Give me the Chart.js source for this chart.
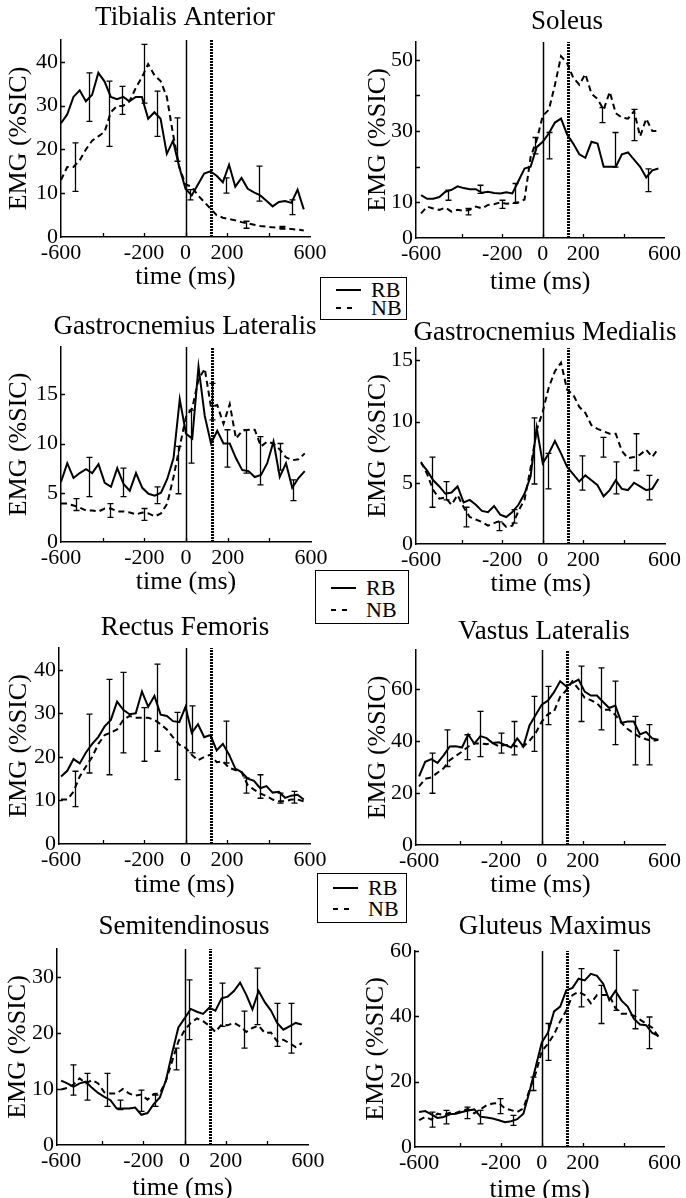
<!DOCTYPE html>
<html>
<head>
<meta charset="utf-8">
<script src="https://cdn.jsdelivr.net/npm/chart.js@4.4.1/dist/chart.umd.min.js"></script>
<style>
  body { margin: 0; background: #fff; width: 686px; height: 1198px; position: relative; overflow: hidden;
         font-family: "Liberation Serif", "Times New Roman", serif; }
  canvas { position: absolute; }
  .lg { position: absolute; box-sizing: border-box; border: 1px solid #000; background: #fff; }
  .lg .row { position: absolute; left: 14px; height: 22px; display: flex; align-items: center; gap: 10px;
             font-size: 22px; line-height: 22px; color: #000; }
</style>
</head>
<body>
<script>
// sample times (ms) shared by every series
const times = [-600,-570,-540,-510,-480,-450,-420,-390,-360,-330,-300,-270,-240,-210,-180,-150,-120,-90,-60,-30,
               0,30,60,90,120,150,180,210,240,270,300,330,360,390,420,450,480,510,540,570];
const xLabels = [-600, -200, 0, 200, 600];
const xMarks = [-400, -200, 0, 200, 400];
const onsetTime = 0;
const secondTime = 125;

// Tibialis Anterior
const taRB = [26,28,32,33.5,31,32.5,37.5,35.5,32,31.5,32,31,32,32,27,28.5,27,19,22,16,11,9.5,12,14.5,15,14,12.5,16.5,11.5,13.5,11,10.2,9.5,8.3,7,8,8.2,7.8,10.8,6.3];
const taNB = [13,16,16,17.5,20,22,23,24,28.5,29.9,30,31,34,36.5,39.5,37,35.6,32,23.5,16,12,11.5,9.5,8,6.5,5,4.4,4.1,3.8,3.4,3.1,2.8,2.5,2.4,2.2,2.1,2,1.8,1.7,1.5];
const taErrT  = [-534,-466,-370,-306,-201,-137,-40,24,193,290,354,466,515];
const taErrLo = [10.4,26.4,20.7,28,30.6,23,17.3,8.5,10,2,8.2,1.8,5.1];
const taErrHi = [21.5,37.5,35.6,34.4,44,33.3,27.2,10.8,13.5,3.6,16.2,2.4,8.5];

// Soleus
const soRB = [12,11,11,11.5,13,13.5,14.5,14,13.7,13.7,12.7,13,12.6,12.5,12.8,12.5,16,19.5,20,25.5,27,29.4,32.4,33.5,29,26.5,23.5,22.5,27,26.5,20,20,20,23.5,24,22,20,17,19,19.5];
const soNB = [6.9,8.8,8.3,7.9,8.5,7.4,7.9,7.6,7.9,8.8,8.3,9.3,9.5,10,9.6,9.8,10,10.8,22.7,27.5,34.3,36,43,51,49,45,43,46,40.5,39,36,41,35,33.8,33.5,35.6,28.5,33.5,30,30];
const soErrT  = [-468,-371,-311,-202,-137,-37,31,294,355,450,519];
const soErrLo = [10.6,6.5,12.5,8.3,9.7,23.6,22.2,32.4,19.9,27.3,13];
const soErrHi = [13.4,8.3,14.8,10.6,15.3,28.2,29.6,36.6,29.6,36.1,19.4];

// Gastrocnemius Lateralis
const glRB = [6.1,8,6.5,7,7.4,7,7.9,6,5.6,7.5,5.9,5.2,7,5.5,4.9,4.7,5,6.4,8.5,14.5,11,10.5,17.8,12.8,10,11.3,10,10,8.5,7.3,7.2,6.6,6.8,8,10.2,6.6,8,5.5,6.5,7.2];
const glNB = [3.9,3.9,3.7,3.5,3.2,3.2,3.1,3.4,3.4,3.1,3.1,3,2.8,3,2.9,2.6,2.9,3.9,6.6,9.7,12.7,13.6,16.5,17.6,13.7,13.9,12,14,10.5,11.3,11.4,11.4,9.7,10.2,10,9.4,8.6,8.3,8.4,9];
const glErrT  = [-528,-464,-365,-304,-202,-138,-37,22,123,195,288,355,451,515];
const glErrLo = [3.2,4.6,2.5,4.6,2.2,3.9,4.9,8,12.4,7.6,7,5.8,7.3,4.2];
const glErrHi = [4.4,8.6,3.9,7.5,3.4,5.6,9.7,13.4,16.1,11.4,11.4,10.7,10,6.3];

// Gastrocnemius Medialis
const gmRB = [6.6,6,5.2,4.7,4.1,4.2,4.7,3.4,3.6,3.2,2.7,2.6,3.1,2.4,2.2,2.6,3.2,4.1,5.5,9.5,6.6,7.4,8.4,7.4,6.3,5.7,5.1,5.6,5.2,4.8,3.9,4.4,5.2,4.5,4.4,5,4.7,4.4,4.5,5.3];
const gmNB = [6.7,5.7,4.4,3.7,3.8,3.2,4,3,2.2,2,1.8,1.5,1.7,1.9,1.4,1.5,2.7,3.6,6.2,9.3,10.8,12.8,14.1,14.8,12.6,12.2,11.2,10.7,9.7,9.4,9.2,9,9,7.6,7,7.1,7.3,7.7,7.1,7.8];
const gmErrT  = [-545,-476,-377,-216,-142,-43,26,193,295,361,460,526];
const gmErrLo = [3,3.6,1.4,1.1,1.7,4.9,4.5,4.4,7.1,4.1,6,3.6];
const gmErrHi = [7.1,5.1,3,1.8,2.8,10.3,7.4,7.2,8.7,6.7,9,5.6];

// Rectus Femoris
const rfRB = [15.5,16.8,19.5,18.5,21,23,24.6,27,28.5,32.7,30.8,29.8,30,35,31.5,34,29.7,29.4,28.2,28,31.5,25.5,27.5,24.5,25,21.5,23,20.5,17.3,16.5,15,14.5,12.8,13.3,11.8,12,10.6,11.1,11.3,10.2];
const rfNB = [10.2,10.2,12,15.5,17.8,20,23,25,25.6,26.3,28.5,29.4,29,29,29,28.5,27.5,26.3,24.5,22.8,22.1,20.5,19.2,20,20.5,18.8,19,17.5,17,16.5,13.5,12.5,11.6,11,10.2,9.8,9.8,10.2,10.2,9.8];
const rfErrT  = [-532,-464,-367,-303,-202,-138,-39,29,194,291,358,455,523];
const rfErrLo = [8.6,16.3,15.9,20.9,19,21.3,14.8,20.9,18.6,11.7,10.5,9.4,9.4];
const rfErrHi = [16.7,29.8,37.8,39.4,31.3,41.3,30.2,31.7,28.2,15.2,15.9,11.7,12.1];

// Vastus Lateralis
const vlRB = [26.4,32,33,31.6,34.5,37.9,38,37.5,42.5,39,41.9,41.1,39.2,39.5,38.5,37.5,41,37.9,46,50,54,55.5,58.8,63,61,62.4,63.6,59,57.5,57.5,55,52.7,53.6,47,47.5,47.5,42.5,43.5,41,40.5];
const vlNB = [22.5,25.5,26,27.8,29.5,32.6,34.3,35.9,37.8,39.1,39,38.8,39.2,38,38.5,38.5,37.9,37.9,40,43,47.5,50.3,51.4,57,59.5,63,60,56.6,55.7,54.5,52,52,50,47,44.6,43,41.5,40.7,40,40.5];
const vlErrT  = [-535,-464,-366,-301,-199,-135,-37,31,194,292,360,457,522];
const vlErrLo = [19.9,30.2,32.8,34,35.3,34.7,36,46.3,47.5,44.3,38.6,30.8,30.8];
const vlErrHi = [35.3,44.3,42.4,51.4,43,47.5,57.2,61,68.8,68.1,63,49.5,46.3];

// Semitendinosus
const stRB = [11.5,11,10.4,11,11.3,10.2,9.3,8.6,8,6.5,6.5,6.5,6.7,5.4,5.7,7.3,8.5,11.6,16.5,21,22.6,24.3,23.8,23.4,24.5,24,26.2,26.5,27.5,29,26.8,24.2,27.5,25.5,24,21.8,20.6,21.2,21.8,21.5];
const stNB = [9.9,10.2,10.8,11.9,11,11.6,11,9.4,9.2,9.2,10,9.2,8.8,9,8.1,9.1,9.2,11.5,15,18.5,20.5,21.8,22.6,22.1,21.3,20.2,21.5,21.4,21.8,21.2,20.2,20.9,21.3,20,20.1,18.5,18.8,18.2,17.5,18.2];
const stErrT  = [-543,-475,-378,-313,-211,-146,-44,21,183,287,353,449,519];
const stErrLo = [8.9,8,6.9,6.3,6,6.9,13.4,18.8,21.2,17.3,21.5,17.6,16.4];
const stErrHi = [14.3,12.8,12.8,8,9.8,8.9,17.3,29.5,28.9,23.9,31.6,25.3,25.3];

// Gluteus Maximus
const gxRB = [10.7,11,10,8.9,9.2,10,10.2,10.7,11.2,11.5,9.3,9,8.7,8.2,7.6,7.9,8.5,10.2,17,24.5,32,35,41.5,43,48,48.7,51.5,51,53,52.4,50,45,47.8,44.8,43,39.3,37.5,37.3,34.9,34];
const gxNB = [8.2,9.2,8.4,10.2,9.8,10.5,10.4,11.2,11.6,10.3,11.5,12.8,13.3,13.5,11.8,11.3,10.7,11.8,17.5,22.5,29.3,31.6,34.5,38.5,41.8,46.5,47.5,46.5,44,46.5,46.5,46.5,42.5,40.8,40.8,40.2,39,37.8,36.5,33.8];
const gxErrT  = [-538,-468,-367,-302,-205,-140,-42,31,193,291,361,457,524];
const gxErrLo = [6.1,7.1,8.7,7.1,10.2,6.6,17.3,26.5,42.9,37.8,41.8,36.2,30.1];
const gxErrHi = [10.7,11.2,12.2,11.2,14.8,9.7,21.4,37.8,54.6,49.5,60.2,48,39.8];

const legendLabels = ['RB', 'NB'];

// panel layout: cx = canvas left, plot = [left, top, right, bottom] in page pixels
const panels = [
  {title: 'Tibialis Anterior', rb: taRB, nb: taNB, eT: taErrT, eLo: taErrLo, eHi: taErrHi,
   xMin: -600, xMax: 600, yMax: 45, yLabels: [0,10,20,30,40], yMarks: [10,20,30,40],
   cx: 0, plot: [61,40,310,237], tx: 185, ty: 18, yTitleX: 19, xGap: 40},
  {title: 'Soleus', rb: soRB, nb: soNB, eT: soErrT, eLo: soErrLo, eHi: soErrHi,
   xMin: -625, xMax: 600, yMax: 55, yLabels: [0,10,30,50], yMarks: [10,20,30,40,50],
   cx: 343, plot: [416,42,668,238], tx: 567, ty: 22, yTitleX: 378, xGap: 44},
  {title: 'Gastrocnemius Lateralis', rb: glRB, nb: glNB, eT: glErrT, eLo: glErrLo, eHi: glErrHi,
   xMin: -600, xMax: 600, yMax: 19.8, yLabels: [0,5,10,15], yMarks: [5,10,15],
   cx: 0, plot: [61,347,311,542], tx: 185, ty: 327, yTitleX: 19, xGap: 40},
  {title: 'Gastrocnemius Medialis', rb: gmRB, nb: gmNB, eT: gmErrT, eLo: gmErrLo, eHi: gmErrHi,
   xMin: -625, xMax: 605, yMax: 16, yLabels: [0,5,10,15], yMarks: [5,10,15],
   cx: 343, plot: [416,348,666,544], tx: 545, ty: 333, yTitleX: 378, xGap: 40},
  {title: 'Rectus Femoris', rb: rfRB, nb: rfNB, eT: rfErrT, eLo: rfErrLo, eHi: rfErrHi,
   xMin: -610, xMax: 600, yMax: 45, yLabels: [0,10,20,30,40], yMarks: [10,20,30,40],
   cx: 0, plot: [59,648,310,844], tx: 185, ty: 628, yTitleX: 19, xGap: 41},
  {title: 'Vastus Lateralis', rb: vlRB, nb: vlNB, eT: vlErrT, eLo: vlErrLo, eHi: vlErrHi,
   xMin: -615, xMax: 603, yMax: 75, yLabels: [0,20,40,60], yMarks: [20,40,60],
   cx: 343, plot: [416,650,666,845], tx: 544, ty: 632, yTitleX: 378, xGap: 40},
  {title: 'Semitendinosus', rb: stRB, nb: stNB, eT: stErrT, eLo: stErrLo, eHi: stErrHi,
   xMin: -620, xMax: 600, yMax: 35, yLabels: [0,10,20,30], yMarks: [10,20,30],
   cx: 0, plot: [57,949,308,1145], tx: 184, ty: 927, yTitleX: 18, xGap: 43},
  {title: 'Gluteus Maximus', rb: gxRB, nb: gxNB, eT: gxErrT, eLo: gxErrLo, eHi: gxErrHi,
   xMin: -620, xMax: 600, yMax: 60, yLabels: [0,20,40,60], yMarks: [20,40,60],
   cx: 343, plot: [415,951,665,1147], tx: 555, ty: 927, yTitleX: 376, xGap: 43}
];

const legendBoxes = [
  {x: 320, y: 277, w: 87, h: 43, rows: [12, 30]},
  {x: 315, y: 570, w: 94, h: 54, rows: [17, 39]},
  {x: 317, y: 873, w: 90, h: 50, rows: [14, 35]}
];

const SERIF = '"Liberation Serif", "Times New Roman", serif';
Chart.defaults.font.family = SERIF;
Chart.defaults.color = '#000';

const TOP = 45, XH = 60, W = 343;

function makeDecor(p, canvasTop) {
  return {
    id: 'decor',
    beforeDatasetsDraw(chart) {
      const {ctx, chartArea: a, scales: {x}} = chart;
      ctx.save();
      ctx.strokeStyle = '#000';
      let px = Math.round(x.getPixelForValue(onsetTime)) + 0.5;
      ctx.lineWidth = 1.5;
      ctx.beginPath(); ctx.moveTo(px, a.bottom); ctx.lineTo(px, a.top); ctx.stroke();
      px = Math.round(x.getPixelForValue(secondTime)) + 0.5;
      ctx.lineWidth = 3;
      ctx.setLineDash([2, 1]);
      ctx.beginPath(); ctx.moveTo(px, a.bottom); ctx.lineTo(px, a.top); ctx.stroke();
      ctx.restore();
    },
    afterDatasetsDraw(chart) {
      const {ctx, chartArea: a, scales: {x, y}} = chart;
      ctx.save();
      ctx.strokeStyle = '#000';
      ctx.lineWidth = 1.3;
      // error bars
      p.eT.forEach((t, i) => {
        const px = Math.round(x.getPixelForValue(t)) + 0.5;
        const y1 = y.getPixelForValue(p.eLo[i]);
        const y2 = y.getPixelForValue(p.eHi[i]);
        ctx.beginPath();
        ctx.moveTo(px, y1); ctx.lineTo(px, y2);
        ctx.moveTo(px - 3, y1); ctx.lineTo(px + 3, y1);
        ctx.moveTo(px - 3, y2); ctx.lineTo(px + 3, y2);
        ctx.stroke();
      });
      // inward tick marks
      ctx.lineWidth = 1.3;
      ctx.beginPath();
      xMarks.forEach(v => {
        const px = Math.round(x.getPixelForValue(v)) + 0.5;
        ctx.moveTo(px, a.bottom); ctx.lineTo(px, a.bottom - 4);
      });
      p.yMarks.forEach(v => {
        const py = Math.round(y.getPixelForValue(v)) + 0.5;
        ctx.moveTo(a.left, py); ctx.lineTo(a.left + 4, py);
      });
      ctx.stroke();
      // panel title
      ctx.fillStyle = '#000';
      ctx.font = '27px ' + SERIF;
      ctx.textAlign = 'center';
      ctx.textBaseline = 'middle';
      ctx.fillText(p.title, p.tx - p.cx, p.ty - canvasTop);
      ctx.restore();
    }
  };
}

panels.forEach(p => {
  const [l, t, r, b] = p.plot;
  const canvasTop = t - TOP;
  const cv = document.createElement('canvas');
  cv.width = W;
  cv.height = (b - t) + TOP + XH;
  cv.style.left = p.cx + 'px';
  cv.style.top = canvasTop + 'px';
  document.body.appendChild(cv);

  new Chart(cv, {
    type: 'line',
    data: {
      datasets: [
        {label: 'RB', data: times.map((tm, i) => ({x: tm, y: p.rb[i]})),
         borderColor: '#000', borderWidth: 2, pointRadius: 0, tension: 0, fill: false},
        {label: 'NB', data: times.map((tm, i) => ({x: tm, y: p.nb[i]})),
         borderColor: '#000', borderWidth: 2, borderDash: [6, 4], pointRadius: 0, tension: 0, fill: false}
      ]
    },
    options: {
      responsive: false,
      animation: false,
      devicePixelRatio: 1,
      layout: {padding: {left: 0, top: TOP, right: (p.cx + W) - r, bottom: 0}},
      plugins: {legend: {display: false}, tooltip: {enabled: false}},
      scales: {
        x: {
          type: 'linear', min: p.xMin, max: p.xMax,
          grid: {display: false, drawTicks: false},
          border: {display: true, color: '#000', width: 1.5},
          ticks: {autoSkip: false, maxRotation: 0, padding: 5, color: '#000',
                  font: {family: SERIF, size: 22, lineHeight: 1},
                  callback: v => String(v)},
          afterBuildTicks: s => { s.ticks = xLabels.map(v => ({value: v})); },
          afterFit: s => { s.height = XH; },
          title: {display: true, text: 'time (ms)', color: '#000',
                  font: {family: SERIF, size: 26, lineHeight: 1},
                  padding: {top: 0, bottom: XH - p.xGap - 13}}
        },
        y: {
          type: 'linear', min: 0, max: p.yMax,
          grid: {display: false, drawTicks: false},
          border: {display: true, color: '#000', width: 1.5},
          ticks: {padding: 3, color: '#000', font: {family: SERIF, size: 22, lineHeight: 1},
                  callback: v => String(v)},
          afterBuildTicks: s => { s.ticks = p.yLabels.map(v => ({value: v})); },
          afterFit: s => { s.width = l - p.cx; },
          title: {display: true, text: 'EMG (%SIC)', color: '#000',
                  font: {family: SERIF, size: 26, lineHeight: 1},
                  padding: {top: p.yTitleX - p.cx - 13, bottom: 0}}
        }
      }
    },
    plugins: [makeDecor(p, canvasTop)]
  });
});

// legends between the panel rows
legendBoxes.forEach(bx => {
  const d = document.createElement('div');
  d.className = 'lg';
  d.style.left = bx.x + 'px';
  d.style.top = bx.y + 'px';
  d.style.width = bx.w + 'px';
  d.style.height = bx.h + 'px';
  legendLabels.forEach((lab, i) => {
    const row = document.createElement('div');
    row.className = 'row';
    row.style.top = (bx.rows[i] - 11) + 'px';
    const dash = i === 0 ? '' : ' stroke-dasharray="5 6"';
    const x2 = i === 0 ? 26 : 18;
    row.innerHTML = '<svg width="26" height="22"><line x1="1" y1="11" x2="' + x2 + '" y2="11" stroke="#000" stroke-width="2"' + dash + '/></svg><span>' + lab + '</span>';
    d.appendChild(row);
  });
  document.body.appendChild(d);
});
</script>
</body>
</html>
